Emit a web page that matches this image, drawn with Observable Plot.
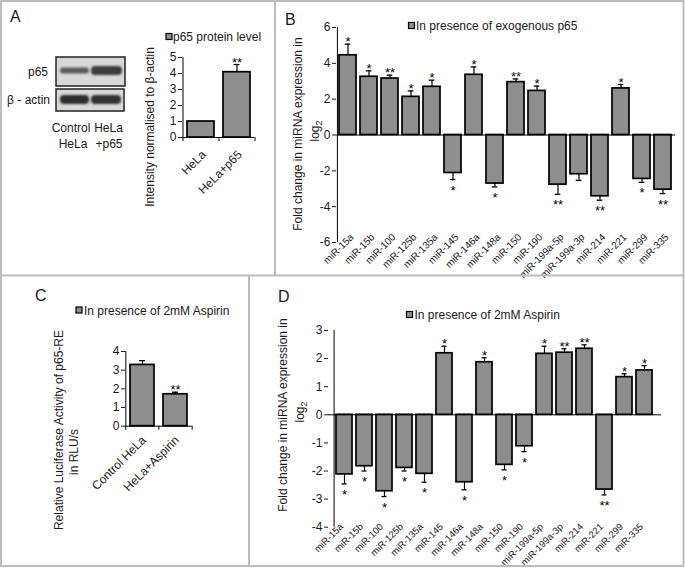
<!DOCTYPE html>
<html>
<head>
<meta charset="utf-8">
<script src="https://cdn.jsdelivr.net/npm/d3@7"></script>
<script src="https://cdn.jsdelivr.net/npm/@observablehq/plot@0.6"></script>
<style>
  body { margin: 0; background: #fff; }
  #fig { position: relative; width: 685px; height: 568px; overflow: hidden; background: #fff;
         font-family: Arial, "Liberation Sans", Helvetica, sans-serif; }
</style>
</head>
<body>
<div id="fig"></div>
<script>
// ---------- DATA ----------
const mirnas = ["miR-15a","miR-15b","miR-100","miR-125b","miR-135a","miR-145","miR-146a","miR-148a",
                "miR-150","miR-190","miR-199a-5p","miR-199a-3p","miR-214","miR-221","miR-299","miR-335"];

// Panel B: in presence of exogenous p65 (log2 fold change)
const p65Values = [4.45, 3.25, 3.15, 2.13, 2.69, -2.12, 3.36, -2.71, 2.95, 2.46, -2.77, -2.19, -3.42, 2.60, -2.45, -3.05];
const p65Errors = [0.62, 0.33, 0.19, 0.33, 0.37, 0.37, 0.44, 0.19, 0.18, 0.27, 0.54, 0.34, 0.22, 0.22, 0.19, 0.22];
const p65Sig    = ["*","*","**","*","*","*","*","*","**","*","**","","**","*","*","**"];

// Panel D: in presence of 2mM Aspirin (log2 fold change)
const aspValues = [-2.12, -1.83, -2.72, -1.89, -2.10, 2.19, -2.40, 1.87, -1.78, -1.12, 2.17, 2.21, 2.35, -2.66, 1.34, 1.58];
const aspErrors = [0.34, 0.17, 0.19, 0.11, 0.30, 0.25, 0.27, 0.16, 0.18, 0.19, 0.27, 0.14, 0.14, 0.19, 0.12, 0.17];
const aspSig    = ["*","*","*","*","*","*","*","*","*","*","*","**","**","**","*","*"];

// Panel A: p65 protein level
const proteinGroups = ["HeLa", "HeLa+p65"];
const proteinValues = [1.0, 4.08];
const proteinErrors = [0, 0.48];
const proteinSig    = ["", "**"];

// Panel C: luciferase activity
const lucGroups = ["Control HeLa", "HeLa+Aspirin"];
const lucValues = [3.28, 1.71];
const lucErrors = [0.23, 0.11];
const lucSig    = ["", "**"];

const ticksA = [0,1,2,3,4,5];
const ticksB = [-6,-4,-2,0,2,4,6];
const ticksC = [0,1,2,3,4];
const ticksD = [-4,-3,-2,-1,0,1,2,3];

// ---------- DRAWING ----------
const FONT = 'Arial, "Liberation Sans", Helvetica, sans-serif';
const BAR_FILL = "#8e8e8e";
const fig = document.getElementById("fig");

function barPanel(cfg) {
  const {cats, vals, errs, sig, yDomain, yTicks, left, top, width, height,
         mt, mr, mb, ml, pad, xFont, xPadding, xdx, xdy, catTicks} = cfg;
  const rows = cats.map((c, i) => ({
    cat: c, v: vals[i], e: vals[i] + Math.sign(vals[i]) * errs[i], hasErr: errs[i] > 0, s: sig[i]
  }));
  const plotW = width - ml - mr;
  const plotH = height - mt - mb;
  const step = plotW / cats.length;
  const bw = step * (1 - pad);
  const capInset = Math.max(0, (bw - 6) / 2);
  const tickLen = 4 * (yDomain[1] - yDomain[0]) / plotH;
  const marks = [
    Plot.barY(rows, {x: "cat", y: "v", fill: BAR_FILL, stroke: "#000", strokeWidth: 1.7}),
    Plot.ruleX(rows.filter(d => d.hasErr), {x: "cat", y1: "v", y2: "e", stroke: "#000", strokeWidth: 1.2}),
    Plot.tickY(rows.filter(d => d.hasErr), {x: "cat", y: "e", stroke: "#000", strokeWidth: 1.3,
                                            insetLeft: capInset, insetRight: capInset}),
    Plot.text(rows.filter(d => d.v >= 0), {x: "cat", y: "e", text: "s", fontSize: 13, dy: -2, lineAnchor: "middle", fill: "#000"}),
    Plot.text(rows.filter(d => d.v < 0), {x: "cat", y: "e", text: "s", fontSize: 13, dy: 11, lineAnchor: "middle", fill: "#000"}),
    Plot.ruleY([0], {stroke: "#000", strokeWidth: 1}),
    Plot.ruleX([cats[0]], {dx: -step / 2, stroke: "#000", strokeWidth: 1}),
    Plot.axisY({ticks: yTicks, tickSize: 4, tickPadding: 2, fontSize: 12, label: null,
                tickFormat: d => String(d)}),
    Plot.axisX({tickSize: 0, tickRotate: -45, tickPadding: xPadding, fontSize: xFont, label: null, dx: xdx, dy: xdy})
  ];
  if (catTicks) {
    marks.push(Plot.ruleX(cats, {x: d => d, dx: -step / 2, y1: 0, y2: -tickLen, stroke: "#000"}));
    marks.push(Plot.ruleX([cats[cats.length - 1]], {x: d => d, dx: step / 2, y1: 0, y2: -tickLen, stroke: "#000"}));
  }
  const svg = Plot.plot({
    width, height, marginTop: mt, marginRight: mr, marginBottom: mb, marginLeft: ml,
    x: {domain: cats, paddingInner: pad, paddingOuter: pad / 2, label: null},
    y: {domain: yDomain, label: null},
    style: {background: "transparent", fontFamily: FONT, fontSize: "12px", color: "#1a1a1a", overflow: "visible"},
    marks
  });
  svg.style.position = "absolute";
  svg.style.left = left + "px";
  svg.style.top = top + "px";
  svg.style.maxWidth = "none";
  fig.appendChild(svg);
}

// Panel A chart
barPanel({cats: proteinGroups, vals: proteinValues, errs: proteinErrors, sig: proteinSig,
  yDomain: [0, 5], yTicks: ticksA, left: 130, top: 20, width: 130, height: 197,
  mt: 37, mr: 6, mb: 80, ml: 52, pad: 0.25, xFont: 12, xPadding: 15, xdx: 3, xdy: 0, catTicks: true});

// Panel B chart
barPanel({cats: mirnas, vals: p65Values, errs: p65Errors, sig: p65Sig,
  yDomain: [-6, 6], yTicks: ticksB, left: 276, top: 0, width: 407, height: 275,
  mt: 27, mr: 8, mb: 33, ml: 60, pad: 0.18, xFont: 10, xPadding: 0, xdx: 4, xdy: -7, catTicks: false});

// Panel C chart
barPanel({cats: lucGroups, vals: lucValues, errs: lucErrors, sig: lucSig,
  yDomain: [0, 4], yTicks: ticksC, left: 60, top: 300, width: 150, height: 225.7,
  mt: 51, mr: 18.3, mb: 100, ml: 65, pad: 0.28, xFont: 12, xPadding: 12, xdx: 1.5, xdy: 0, catTicks: true});

// Panel D chart
barPanel({cats: mirnas, vals: aspValues, errs: aspErrors, sig: aspSig,
  yDomain: [-4, 3], yTicks: ticksD, left: 250, top: 276, width: 433, height: 290,
  mt: 54, mr: 22, mb: 39.3, ml: 78, pad: 0.18, xFont: 9.5, xPadding: 0, xdx: -3, xdy: -2, catTicks: false});

// ---------- Overlay: borders, titles, legends, blot ----------
const overlay = `
<svg width="685" height="568" style="position:absolute;left:0;top:0;pointer-events:none;font-family:${FONT.replace(/"/g, "'")};" fill="#1a1a1a">
  <defs><filter id="blur" x="-20%" y="-50%" width="140%" height="200%"><feGaussianBlur stdDeviation="1.1"/></filter></defs>
  <g stroke="#bcbcbc" stroke-width="2" fill="none">
    <rect x="1" y="1" width="682.5" height="565"/>
    <line x1="1" y1="275.5" x2="683.5" y2="275.5"/>
    <line x1="275" y1="1" x2="275" y2="275.5"/>
    <line x1="249" y1="275.5" x2="249" y2="566"/>
  </g>
  <g font-size="16">
    <text x="10" y="22">A</text>
    <text x="285" y="25">B</text>
    <text x="35" y="301">C</text>
    <text x="278" y="302">D</text>
  </g>
  <!-- blot -->
  <rect x="56" y="57" width="69" height="29" fill="#d8d8d8" stroke="#222" stroke-width="1.5"/>
  <rect x="56" y="89" width="68" height="22" fill="#d8d8d8" stroke="#222" stroke-width="1.5"/>
  <g filter="url(#blur)">
    <rect x="60" y="67.5" width="29" height="6" rx="3" fill="#5a5a5a"/>
    <rect x="91" y="66" width="31" height="9" rx="4" fill="#3c3c3c"/>
    <rect x="60" y="95" width="29" height="9" rx="4" fill="#2e2e2e"/>
    <rect x="91" y="95" width="30" height="9" rx="4" fill="#333"/>
  </g>
  <g font-size="12">
    <text x="48" y="76" text-anchor="end">p65</text>
    <text x="50" y="104" text-anchor="end">β - actin</text>
    <text x="71" y="132" text-anchor="middle">Control</text>
    <text x="73" y="147.5" text-anchor="middle">HeLa</text>
    <text x="108.5" y="132" text-anchor="middle">HeLa</text>
    <text x="109" y="147.5" text-anchor="middle">+p65</text>
  </g>
  <!-- legends -->
  <g font-size="12">
    <rect x="166" y="33.5" width="6" height="6" fill="${BAR_FILL}" stroke="#000" stroke-width="1.2"/>
    <text x="173" y="41">p65 protein level</text>
    <rect x="408.5" y="22.5" width="6" height="6" fill="${BAR_FILL}" stroke="#000" stroke-width="1.2"/>
    <text x="416" y="30">In presence of exogenous p65</text>
    <rect x="76" y="307" width="6" height="6" fill="${BAR_FILL}" stroke="#000" stroke-width="1.2"/>
    <text x="84" y="314.5">In presence of 2mM Aspirin</text>
    <rect x="406.5" y="311.5" width="6" height="6" fill="${BAR_FILL}" stroke="#000" stroke-width="1.2"/>
    <text x="414.5" y="319">In presence of 2mM Aspirin</text>
  </g>
  <!-- y-axis titles -->
  <g font-size="12" text-anchor="middle">
    <text transform="translate(154,127) rotate(-90)">Intensity normalised to β-actin</text>
    <text transform="translate(302,134) rotate(-90)">Fold change in miRNA expression in</text>
    <text transform="translate(319,131) rotate(-90)">log<tspan font-size="9" dy="3">2</tspan></text>
    <text transform="translate(63,430) rotate(-90)">Relative Luciferase Activity of p65-RE</text>
    <text transform="translate(78,452) rotate(-90)">in RLU/s</text>
    <text transform="translate(287,415) rotate(-90)">Fold change in miRNA expression in</text>
    <text transform="translate(304,412) rotate(-90)">log<tspan font-size="9" dy="3">2</tspan></text>
  </g>
</svg>`;
fig.insertAdjacentHTML("beforeend", overlay);
</script>
</body>
</html>
